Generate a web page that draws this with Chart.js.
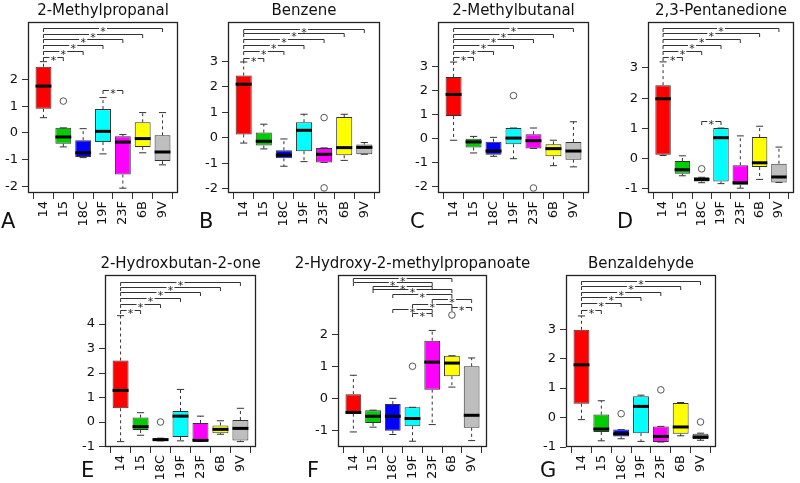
<!DOCTYPE html>
<html><head><meta charset="utf-8">
<script src="https://cdn.jsdelivr.net/npm/chart.js@4/dist/chart.umd.min.js"></script>
<style>
body{margin:0;background:#fff;width:800px;height:483px;overflow:hidden;position:relative;font-family:"DejaVu Sans",sans-serif;}
canvas{position:absolute;}
.lab{position:absolute;font:21px "DejaVu Sans",sans-serif;line-height:21px;color:#111;}
</style></head><body>
<script>
// ---------- DATA ----------
const groups = ['14','15','18C','19F','23F','6B','9V'];
// five-number rows per group: [lower whisker, Q1, median, Q3, upper whisker]
const statsA = [[0.57,0.90,1.75,2.47,2.66],[-0.52,-0.40,-0.15,0.19,0.19],[-0.92,-0.90,-0.74,-0.27,0.16],[-0.78,-0.34,0.06,0.89,1.32],[-2.06,-1.55,-0.34,-0.12,-0.06],[-0.74,-0.52,-0.21,0.40,0.76],[-1.19,-1.05,-0.71,-0.09,0.76]];
const statsB = [[-0.20,0.14,2.11,2.45,2.98],[-0.43,-0.30,-0.13,0.21,0.54],[-1.11,-0.80,-0.67,-0.48,-0.04],[-0.93,-0.52,0.30,0.62,0.93],[-0.96,-0.96,-0.64,-0.39,-0.39],[-0.88,-0.68,-0.38,0.82,0.93],[-0.64,-0.64,-0.37,-0.26,-0.18]];
const statsC = [[-0.08,0.93,1.83,2.56,3.18],[-0.61,-0.38,-0.15,0.00,0.08],[-0.75,-0.69,-0.53,-0.14,0.04],[-0.85,-0.25,0.01,0.43,0.43],[-0.42,-0.42,-0.10,0.17,0.43],[-1.14,-0.75,-0.43,-0.25,-0.08],[-1.19,-0.89,-0.53,-0.15,0.69]];
const statsD = [[0.10,0.13,1.98,2.43,3.20],[-0.57,-0.50,-0.37,-0.08,0.09],[-0.80,-0.76,-0.69,-0.62,-0.62],[-0.83,-0.76,0.69,1.01,1.01],[-0.98,-0.87,-0.80,-0.22,0.75],[-0.69,-0.28,-0.14,0.71,1.07],[-0.79,-0.79,-0.61,-0.17,0.38]];
const statsE = [[-0.80,0.56,1.29,2.51,4.34],[-0.54,-0.33,-0.19,0.18,0.38],[-0.77,-0.77,-0.72,-0.66,-0.66],[-0.77,-0.61,0.24,0.45,1.33],[-0.79,-0.79,-0.75,-0.04,0.24],[-0.50,-0.46,-0.30,-0.14,0.05],[-0.80,-0.75,-0.26,0.08,0.56]];
const statsF = [[-1.05,-0.48,-0.44,0.13,0.72],[-0.90,-0.77,-0.56,-0.37,-0.37],[-1.13,-1.01,-0.56,-0.18,0.00],[-1.34,-0.87,-0.63,-0.28,-0.28],[-0.82,0.27,1.13,1.80,2.12],[0.35,0.69,1.10,1.33,1.33],[-1.32,-0.92,-0.53,1.00,1.26]];
const statsG = [[-0.07,0.47,1.79,2.98,3.45],[-0.79,-0.49,-0.39,0.10,0.57],[-0.72,-0.64,-0.55,-0.41,-0.41],[-0.81,-0.53,0.38,0.72,0.76],[-0.83,-0.83,-0.64,-0.30,-0.30],[-0.62,-0.55,-0.32,0.49,0.51],[-0.77,-0.73,-0.66,-0.55,-0.53]];
// outliers: [group, value]
const outA = [['15',1.19]];
const outB = [['23F',0.80],['23F',-1.96]];
const outC = [['19F',1.78],['23F',-2.07]];
const outD = [['18C',-0.34]];
const outE = [['18C',0.00]];
const outF = [['19F',1.00],['6B',2.60]];
const outG = [['18C',0.13],['23F',0.94],['9V',-0.15]];
// significance brackets: [group 1, group 2, level]
const sigA = [['14','15',2.83],['14','18C',3.06],['14','19F',3.28],['14','23F',3.49],['14','6B',3.70],['14','9V',3.91],['19F','23F',1.59]];
const sigB = [['14','15',3.15],['14','18C',3.42],['14','19F',3.66],['14','23F',3.87],['14','6B',4.10],['14','9V',4.28]];
const sigC = [['14','15',3.39],['14','18C',3.64],['14','19F',3.89],['14','23F',4.13],['14','6B',4.36],['14','9V',4.58]];
const sigD = [['14','15',3.36],['14','18C',3.56],['14','19F',3.77],['14','23F',3.95],['14','6B',4.14],['14','9V',4.31],['18C','19F',1.24]];
const sigE = [['14','15',4.58],['14','18C',4.82],['14','19F',5.08],['14','23F',5.30],['14','6B',5.53],['14','9V',5.73]];
const sigF = [['14','6B',3.77],['14','23F',3.64],['15','23F',3.51],['15','6B',3.40],['18C','6B',3.25],['23F','9V',3.10],['19F','6B',2.96],['6B','9V',2.86],['18C','23F',2.80],['19F','23F',2.66]];
const sigG = [['14','15',3.66],['14','18C',3.90],['14','19F',4.08],['14','23F',4.27],['14','6B',4.45],['14','9V',4.62]];
// y tick labels
const ticksA = [-2,-1,0,1,2];
const ticksB = [-2,-1,0,1,2,3];
const ticksC = [-2,-1,0,1,2,3];
const ticksD = [-1,0,1,2,3];
const ticksE = [-1,0,1,2,3,4];
const ticksF = [-1,0,1,2];
const ticksG = [-1,0,1,2,3];
const titles = ['2-Methylpropanal','Benzene','2-Methylbutanal','2,3-Pentanedione','2-Hydroxbutan-2-one','2-Hydroxy-2-methylpropanoate','Benzaldehyde'];
const letters = ['A','B','C','D','E','F','G'];

// ---------- STYLE / LAYOUT ----------
const groupColors = ['#FF0000','#00CD00','#0000FF','#00FFFF','#FF00FF','#FFFF00','#BEBEBE'];
const geom = [
  {L:28, R:178, T:22, B:193, yMin:-2.24, yMax:4.14, lx:1,  ly:211},
  {L:228,R:380, T:22, B:193, yMin:-2.16, yMax:4.55, lx:199,ly:211},
  {L:438,R:589, T:22, B:193, yMin:-2.28, yMax:4.85, lx:410,ly:211},
  {L:648,R:794, T:22, B:193, yMin:-1.14, yMax:4.52, lx:617,ly:211},
  {L:105,R:256, T:275,B:447, yMin:-1.02, yMax:6.00, lx:81, ly:460},
  {L:338,R:487, T:275,B:447, yMin:-1.52, yMax:3.85, lx:307,ly:460},
  {L:566,R:716, T:275,B:447, yMin:-1.00, yMax:4.84, lx:540,ly:460}
];
const allStats = [statsA,statsB,statsC,statsD,statsE,statsF,statsG];
const allOut = [outA,outB,outC,outD,outE,outF,outG];
const allSig = [sigA,sigB,sigC,sigD,sigE,sigF,sigG];
const allTicks = [ticksA,ticksB,ticksC,ticksD,ticksE,ticksF,ticksG];
const PADL = 40, PADR = 70, YW = 40, TOP = 22, XH = 45;

Chart.defaults.font.family = "'DejaVu Sans', sans-serif";
Chart.defaults.color = '#111';

const extras = {
  id:'boxExtras',
  afterDatasetsDraw(chart){
    const o = chart.options.plugins.boxExtras;
    const {ctx, chartArea:a} = chart;
    const xs = chart.scales.x, ys = chart.scales.y;
    const X = v => xs.getPixelForValue(v), Y = v => ys.getPixelForValue(v);
    const seg = (x1,y1,x2,y2)=>{ctx.beginPath();ctx.moveTo(x1,y1);ctx.lineTo(x2,y2);ctx.stroke();};
    ctx.save();
    o.stats.forEach((s,i)=>{
      const cx = X(i+1);
      const cap = X(i+1.18)-cx, hb = X(i+1.4)-cx;
      ctx.strokeStyle='#333'; ctx.lineWidth=1;
      ctx.setLineDash([3,3]);
      if (s[4]>s[3]) seg(cx,Y(s[3]),cx,Y(s[4]));
      if (s[0]<s[1]) seg(cx,Y(s[1]),cx,Y(s[0]));
      ctx.setLineDash([]);
      seg(cx-cap,Y(s[4]),cx+cap,Y(s[4]));
      seg(cx-cap,Y(s[0]),cx+cap,Y(s[0]));
      ctx.strokeStyle='#000'; ctx.lineWidth=3;
      seg(cx-hb,Y(s[2]),cx+hb,Y(s[2]));
    });
    ctx.lineWidth=1; ctx.strokeStyle='#333'; ctx.fillStyle='#222';
    ctx.font = "11px 'DejaVu Sans'"; ctx.textAlign='center'; ctx.textBaseline='alphabetic';
    o.sig.forEach(([g1,g2,v])=>{
      const x1 = X(groups.indexOf(g1)+1), x2 = X(groups.indexOf(g2)+1), yy = Math.round(Y(v))+0.5;
      const m = (x1+x2)/2;
      seg(x1,yy,m-4,yy); seg(m+4,yy,x2,yy);
      seg(x1,yy,x1,yy+3.5); seg(x2,yy,x2,yy+3.5);
      ctx.fillText('*', m, yy+6.5);
    });
    ctx.strokeStyle='#222'; ctx.lineWidth=1.3;
    ctx.strokeRect(a.left+0.5,a.top+0.5,a.width-1,a.height-1);
    // panel title, centred over the plot region
    ctx.fillStyle='#111'; ctx.font="15px 'DejaVu Sans'"; ctx.textAlign='center'; ctx.textBaseline='middle';
    ctx.fillText(o.title, (a.left+a.right)/2, a.top-11);
    ctx.restore();
  }
};

geom.forEach((g,k)=>{
  const W = (g.R-g.L)+PADL+YW+PADR, H = (g.B-g.T)+TOP+XH;
  const cv = document.createElement('canvas');
  cv.width = W; cv.height = H;
  cv.style.left = (g.L-YW-PADL)+'px'; cv.style.top = (g.T-TOP)+'px';
  cv.style.width = W+'px'; cv.style.height = H+'px';
  document.body.appendChild(cv);
  const lab = document.createElement('div');
  lab.className='lab'; lab.textContent = letters[k];
  lab.style.left = g.lx+'px'; lab.style.top = g.ly+'px';
  document.body.appendChild(lab);
  const stats = allStats[k], tks = allTicks[k];
  new Chart(cv, {
    type:'bar',
    data:{datasets:[
      {type:'bar', data: stats.map((s,i)=>({x:i+1, y:[s[1],s[3]]})),
       backgroundColor: groupColors, borderColor:'#333', borderWidth:1, borderSkipped:false,
       barPercentage:0.8, categoryPercentage:1.0},
      {type:'scatter', data: allOut[k].map(([gr,v])=>({x:groups.indexOf(gr)+1, y:v})),
       pointStyle:'circle', pointRadius:3.3, pointBorderColor:'#555', pointBackgroundColor:'rgba(0,0,0,0)', pointBorderWidth:1}
    ]},
    options:{
      responsive:false, animation:false, devicePixelRatio:1,
      layout:{padding:{left:PADL,right:PADR,top:TOP,bottom:0}},
      scales:{
        x:{type:'linear', min:0.22, max:7.78, offset:false,
           afterBuildTicks:s=>{s.ticks = groups.map((gr,i)=>({value:i+1}));},
           afterFit:s=>{s.height=XH;},
           grid:{drawOnChartArea:false, tickLength:6, color:'#333'},
           border:{display:false},
           ticks:{autoSkip:false, minRotation:90, maxRotation:90, padding:2, font:{size:13}, color:'#111',
                  callback:v=>groups[v-1] ?? ''}},
        y:{type:'linear', min:g.yMin, max:g.yMax, beginAtZero:false,
           afterBuildTicks:s=>{s.ticks = tks.map(v=>({value:v}));},
           afterFit:s=>{s.width=YW;},
           grid:{drawOnChartArea:false, tickLength:6, color:'#333'},
           border:{display:false},
           ticks:{padding:4, font:{size:13}, color:'#111'}}
      },
      plugins:{
        legend:{display:false}, tooltip:{enabled:false}, title:{display:false},
        boxExtras:{stats, sig:allSig[k], title:titles[k]}
      }
    },
    plugins:[extras]
  });
});
</script>
</body></html>
